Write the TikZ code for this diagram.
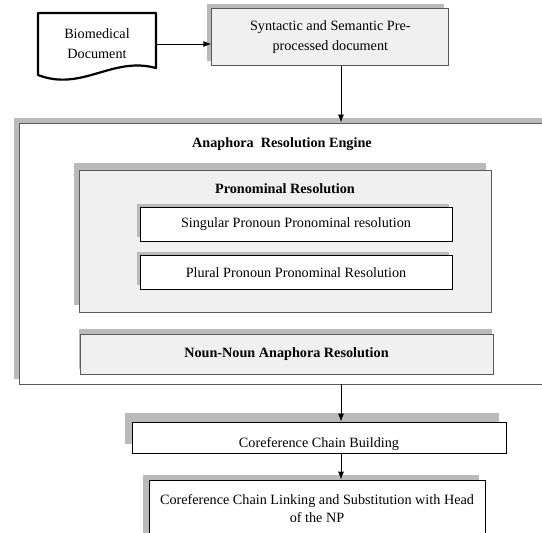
\documentclass[tikz,border=0pt]{standalone}
\usepackage{fontspec}
\setmainfont{Liberation Serif}
\usetikzlibrary{shadows,arrows.meta}
\newcommand{\basefont}{\fontsize{14.2}{20}\selectfont}
\tikzset{lift/.style 2 args={drop shadow={shadow xshift=-#1pt,shadow yshift=#2pt,fill=black!27,opacity=1}}}
\tikzstyle{flow}=[->,>={Latex[length=8pt,width=6pt]},draw=black,line width=0.8pt]
\tikzstyle{doc}=[rectangle,inner sep=0pt,align=center]
\tikzstyle{docline}=[draw=black,line width=2.2pt,line join=round,fill=white]
\tikzstyle{engine}=[rectangle,draw=black!65,fill=white,line width=0.9pt,lift={5}{5}]
\tikzstyle{stage}=[rectangle,inner sep=3pt,draw=black!65,fill=black!6,line width=0.9pt,align=center]
\tikzstyle{substage}=[rectangle,inner sep=3pt,draw=black,fill=white,line width=0.8pt,align=center]
\tikzstyle{boxtitle}=[inner sep=0pt,font=\basefont\bfseries]

\begin{document}
\begin{tikzpicture}[x=1pt,y=-1pt,font=\basefont]
	%The canvas
	\useasboundingbox (0,0) rectangle (542,533);
	\clip (0,0) rectangle (542,533);
	\coordinate (spine) at (341,0);
	
	%The input document
	\draw[docline] (38,13) -- (156,13) -- (156,68) .. controls (112,56) and (82,92) .. (38,75) -- cycle;
	\draw (97,44) node[doc, minimum width=118pt, minimum height=62pt] (bio) {Biomedical\\Document};
	
	%The preprocessing
	\draw (330.3,37.3) node[stage, lift={5}{5}, minimum width=237pt, minimum height=57pt] (prep) {Syntactic and Semantic Pre-\\processed document};
	\draw[flow] (bio.east) -- (prep.west |- bio.east);
	
	%The engine
	\draw (310,253.5) node[engine, minimum width=582pt, minimum height=261pt] (engine) {};
	\draw (282,144.6) node[boxtitle] (enginetitle) {Anaphora\ \ Resolution Engine};
	\draw[flow] (prep.south -| spine) -- (engine.north -| spine);
	
	%The pronominal part
	\draw (285.5,241.5) node[stage, lift={6}{8}, minimum width=412pt, minimum height=142pt] (pron) {};
	\draw (285,188.8) node[boxtitle] (prontitle) {Pronominal Resolution};
	\draw (296,224.6) node[substage, lift={3}{4}, minimum width=312pt, minimum height=33.6pt] (singular) {Singular Pronoun Pronominal resolution};
	\draw (296,272.3) node[substage, lift={3}{4}, minimum width=312pt, minimum height=33.4pt] (plural) {Plural Pronoun Pronominal Resolution};
	
	%The noun-noun part
	\draw (286.5,354) node[stage, lift={1}{5}, minimum width=413pt, minimum height=40pt, font=\basefont\bfseries] (nounnoun) {Noun-Noun Anaphora Resolution};
	
	%The chains
	\draw (319,437.5) node[substage, lift={7}{9}, minimum width=374pt, minimum height=31pt, text height=19pt, text depth=0pt] (chain) {Coreference Chain Building};
	\draw[flow] (engine.south -| spine) -- (chain.north -| spine);
	\draw (317,509) node[substage, lift={6}{5}, minimum width=336pt, minimum height=58pt] (linking) {Coreference Chain Linking and Substitution with Head\\[-2pt]of the NP};
	\draw[flow] (chain.south -| spine) -- (linking.north -| spine);
\end{tikzpicture}
\end{document}
